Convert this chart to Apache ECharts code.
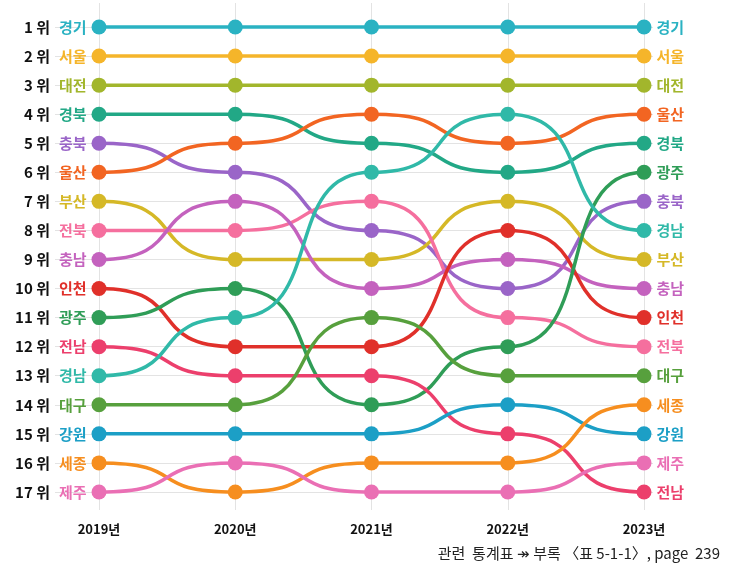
<!DOCTYPE html>
<html>
<head>
<meta charset="utf-8">
<script src="https://cdn.jsdelivr.net/npm/echarts@6/dist/echarts.min.js"></script>
<style>
  html, body { margin: 0; padding: 0; background: #fff; }
  #chart { width: 744px; height: 569px; }
</style>
</head>
<body>
<div id="chart"></div>
<script>
// 연도별 순위 (1위부터 17위까지)
const years = [2019, 2020, 2021, 2022, 2023]
const rankLabels = [1, 2, 3, 4, 5, 6, 7, 8, 9, 10, 11, 12, 13, 14, 15, 16, 17]

const order2019 = ['경기', '서울', '대전', '경북', '충북', '울산', '부산', '전북', '충남', '인천', '광주', '전남', '경남', '대구', '강원', '세종', '제주']
const order2020 = ['경기', '서울', '대전', '경북', '울산', '충북', '충남', '전북', '부산', '광주', '경남', '인천', '전남', '대구', '강원', '제주', '세종']
const order2021 = ['경기', '서울', '대전', '울산', '경북', '경남', '전북', '충북', '부산', '충남', '대구', '인천', '전남', '광주', '강원', '세종', '제주']
const order2022 = ['경기', '서울', '대전', '경남', '울산', '경북', '부산', '인천', '충남', '충북', '전북', '광주', '대구', '강원', '전남', '세종', '제주']
const order2023 = ['경기', '서울', '대전', '울산', '경북', '광주', '충북', '경남', '부산', '충남', '인천', '전북', '대구', '세종', '강원', '제주', '전남']
const orders = [order2019, order2020, order2021, order2022, order2023]

const regionColors = {
  경기: '#2ab2c2', 서울: '#f5b52a', 대전: '#a2b62c', 경북: '#22a886',
  충북: '#9a65c8', 울산: '#f26522', 부산: '#d5b827', 전북: '#f56f9e',
  충남: '#c462be', 인천: '#e0302a', 광주: '#2f9d57', 전남: '#ec3f6c',
  경남: '#30b9a8', 대구: '#57a03d', 강원: '#1c9fc6', 세종: '#f68e1f',
  제주: '#ea6fb4'
}

const regions = order2019.slice()
const rankOf = (yi, name) => orders[yi].indexOf(name) + 1

// 구간별 곡선 데이터: [x0, r0, x1, r1, regionIndex]
const segData = []
regions.forEach((name, ri) => {
  for (let i = 0; i < years.length - 1; i++) {
    segData.push([years[i], rankOf(i, name), years[i + 1], rankOf(i + 1, name), ri])
  }
})

const labelFont = '"Noto Sans CJK KR", "Noto Sans", sans-serif'

const pointData = []
regions.forEach((name) => {
  years.forEach((y, yi) => {
    const item = {
      name,
      value: [y, rankOf(yi, name)],
      itemStyle: { color: regionColors[name], opacity: 1 }
    }
    if (yi === 0 || yi === years.length - 1) {
      item.label = {
        show: true,
        position: yi === 0 ? 'left' : 'right',
        distance: 5,
        formatter: name,
        color: regionColors[name],
        fontSize: 15,
        fontWeight: 'bold',
        fontFamily: labelFont
      }
    }
    pointData.push(item)
  })
})

const chart = echarts.init(document.getElementById('chart'))

const option = {
  backgroundColor: '#fff',
  animation: false,
  grid: { left: 55, right: 91, top: 3, bottom: 59 },
  xAxis: {
    type: 'value',
    min: 2018.677,
    max: 2023.066,
    axisLine: { show: false },
    axisTick: { show: false, customValues: years },
    axisLabel: {
      customValues: years,
      formatter: (v) => v + '년',
      color: '#111',
      fontSize: 13,
      fontWeight: 'bold',
      fontFamily: labelFont,
      margin: 13
    },
    splitLine: { show: true, lineStyle: { color: '#e3e3e3', width: 1 } }
  },
  yAxis: {
    type: 'value',
    inverse: true,
    min: 0.174,
    max: 17.62,
    axisLine: { show: false },
    axisTick: { show: false, customValues: rankLabels },
    axisLabel: {
      customValues: rankLabels,
      formatter: (v) => v + ' 위',
      color: '#111',
      fontSize: 15,
      fontWeight: 'bold',
      fontFamily: labelFont,
      margin: 5
    },
    splitLine: { show: true, lineStyle: { color: '#e3e3e3', width: 1 } }
  },
  graphic: [
    {
      type: 'text',
      right: 24,
      top: 546,
      style: {
        text: '관련  통계표 ↠ 부록 〈표 5-1-1〉, page  239',
        fill: '#222',
        fontSize: 15,
        fontFamily: labelFont
      }
    }
  ],
  series: [
    {
      type: 'custom',
      z: 2,
      encode: { x: [0, 2], y: [1, 3] },
      data: segData,
      renderItem: (params, api) => {
        const p0 = api.coord([api.value(0), api.value(1)])
        const p1 = api.coord([api.value(2), api.value(3)])
        const k = (p1[0] - p0[0]) * 0.67
        return {
          type: 'bezierCurve',
          shape: {
            x1: p0[0], y1: p0[1],
            cpx1: p0[0] + k, cpy1: p0[1],
            cpx2: p1[0] - k, cpy2: p1[1],
            x2: p1[0], y2: p1[1]
          },
          style: {
            stroke: regionColors[regions[api.value(4)]],
            lineWidth: 3.5,
            fill: null
          }
        }
      }
    },
    {
      type: 'scatter',
      z: 3,
      symbolSize: 15,
      data: pointData
    }
  ]
}

chart.setOption(option)
</script>
</body>
</html>
